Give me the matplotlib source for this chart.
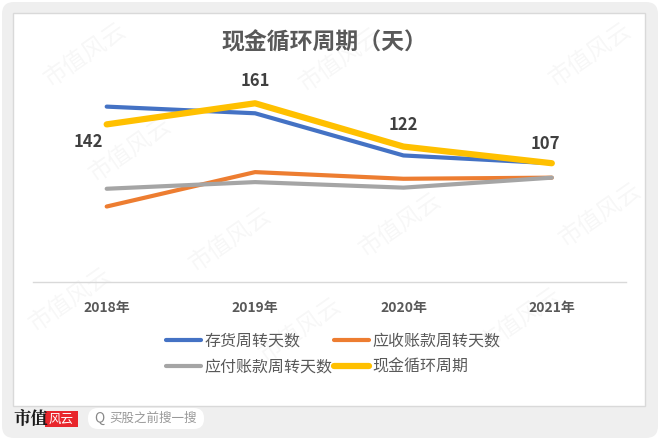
import matplotlib
matplotlib.use("Agg")
import matplotlib.pyplot as plt
from matplotlib.patches import FancyBboxPatch, Rectangle
from matplotlib.lines import Line2D

plt.rcParams['font.family'] = ['Noto Sans CJK SC', 'DejaVu Sans']

# data
years = ['2018年', '2019年', '2020年', '2021年']
inventory_days = [158, 152, 114, 107]
receivable_days = [68, 99, 93, 94]
payable_days = [84, 90, 85, 94]
cash_cycle = [142, 161, 122, 107]

series_names = ['存货周转天数', '应收账款周转天数', '应付账款周转天数', '现金循环周期']
colors = ['#4472C4', '#ED7D31', '#A5A5A5', '#FFC000']

W, H = 660, 440
fig = plt.figure(figsize=(6.6, 4.4), dpi=100)
fig.patch.set_facecolor('white')

def fx(px):
    return px / W

def fy(py):
    return 1 - py / H

# outer grey card and the white chart panel
bg = fig.add_axes([0, 0, 1, 1], zorder=0)
bg.set_xlim(0, W)
bg.set_ylim(H, 0)
bg.axis('off')
bg.add_patch(FancyBboxPatch((2, 2), W - 4, H - 4, boxstyle="round,pad=0,rounding_size=12",
                            fc='#efefef', ec='none'))
bg.add_patch(Rectangle((13, 13), 632, 393, fc='white', ec='#d9d9d9', lw=1))

# watermark
marks = [(85, 55), (340, 60), (590, 55), (130, 150), (400, 225), (600, 215), (230, 240),
         (70, 300), (300, 330), (520, 320)]
for mx, my in marks:
    bg.text(mx, my, '市值风云', rotation=35, fontsize=17, color='#000000', alpha=0.035,
            fontweight='light', ha='center', va='center')

# footer logo and search box
bg.text(13, 419, '市值', fontsize=12.5, fontweight='bold', color='#1a1a1a',
        family=['Noto Serif CJK SC', 'Noto Sans CJK SC'], va='center', ha='left')
bg.add_patch(Rectangle((45, 411), 33, 16, fc='#e8262c', ec='none'))
bg.text(61.5, 419, '风云', fontsize=9, color='white', style='italic', va='center', ha='center')
bg.add_patch(FancyBboxPatch((88, 408), 116, 21, boxstyle="round,pad=0,rounding_size=10",
                            fc='white', ec='none'))
bg.text(94, 418.5, 'Q', fontsize=10, color='#888888', va='center', ha='left')
bg.text(109, 418.5, '买股之前搜一搜', fontsize=9, color='#999999', va='center', ha='left')

# main chart
ax = fig.add_axes([fx(32.5), fy(282), (626 - 32.5) / W, (282 - 60) / H], zorder=2)
ax.patch.set_alpha(0)
x = range(len(years))
all_series = [inventory_days, receivable_days, payable_days, cash_cycle]
widths = [3, 3, 3, 4.5]
for vals, c, lw, name in zip(all_series, colors, widths, series_names):
    ax.plot(x, vals, color=c, lw=lw, solid_capstyle='round', solid_joinstyle='round', label=name)

ax.set_xlim(-0.5, len(years) - 0.5)
ax.set_ylim(0, 200)
ax.set_yticks([])
ax.set_xticks(list(x))
ax.set_xticklabels(years, fontsize=10, fontweight='bold', color='#595959')
ax.tick_params(axis='x', length=0, pad=14)
for s in ['top', 'right', 'left']:
    ax.spines[s].set_visible(False)
ax.spines['bottom'].set_color('#d9d9d9')
ax.spines['bottom'].set_linewidth(1)

# data labels on the cash cycle line
offsets = [(-18, -18), (0, 22), (0, 22), (-6, 19)]
for i, v in enumerate(cash_cycle):
    ax.annotate(str(v), (i, v), xytext=offsets[i], textcoords='offset pixels',
                ha='center', va='center', fontsize=12, fontweight='bold', color='#404040')

fig.text(fx(324), fy(43), '现金循环周期（天）', ha='center', va='center', fontsize=16.5,
         fontweight='bold', color='#595959')

handles = [Line2D([], [], color=c, lw=lw, solid_capstyle='round') for c, lw in zip(colors, widths)]
order = [0, 2, 1, 3]
leg = fig.legend([handles[i] for i in order], [series_names[i] for i in order], ncol=2,
                 loc='center', bbox_to_anchor=(fx(333), fy(354)), frameon=False,
                 fontsize=11.5, handlelength=2.2, handletextpad=0.2, columnspacing=0.1,
                 labelspacing=0.55)
for t in leg.get_texts():
    t.set_color('#595959')

fig.savefig('out.png', dpi=100)
